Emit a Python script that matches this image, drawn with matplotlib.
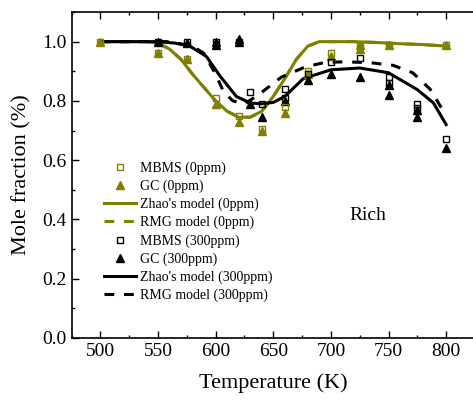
import matplotlib
matplotlib.use("Agg")
import matplotlib.pyplot as plt
from matplotlib.ticker import MultipleLocator

plt.rcParams["font.family"] = ["Liberation Serif", "DejaVu Serif"]

OLIVE = "#808000"

# measured points, 0 ppm
mbms0_T = [500, 550, 575, 600, 620, 640, 660, 680, 700, 725, 750, 800]
mbms0_v = [1.0, 0.96, 0.94, 0.81, 0.75, 0.705, 0.78, 0.90, 0.96, 0.985, 0.99, 0.99]
gc0_T = [500, 550, 575, 600, 620, 640, 660, 680, 700, 725, 725, 750, 800]
gc0_v = [1.0, 0.96, 0.94, 0.79, 0.73, 0.70, 0.76, 0.89, 0.95, 0.975, 0.99, 0.99, 0.99]

# measured points, 300 ppm
mbms300_T = [550, 575, 600, 620, 630, 640, 660, 660, 680, 700, 725, 750, 750, 775, 775, 800]
mbms300_v = [1.0, 1.0, 1.0, 1.0, 0.83, 0.79, 0.84, 0.81, 0.89, 0.93, 0.945, 0.88, 0.86, 0.79, 0.775, 0.67]
gc300_T = [550, 575, 600, 600, 620, 620, 630, 640, 660, 680, 700, 725, 750, 750, 775, 775, 800]
gc300_v = [1.0, 0.995, 0.99, 1.0, 1.0, 1.01, 0.79, 0.745, 0.80, 0.87, 0.89, 0.88, 0.855, 0.82, 0.77, 0.745, 0.64]

# model curves
zhao0_T = [500, 540, 550, 560, 570, 580, 590, 600, 610, 620, 630, 640, 650, 660, 670, 680, 690, 700, 720, 740, 760, 780, 800]
zhao0_v = [1.0, 1.0, 0.995, 0.975, 0.94, 0.89, 0.845, 0.80, 0.765, 0.745, 0.745, 0.765, 0.815, 0.875, 0.94, 0.985, 1.0, 1.0, 1.0, 0.997, 0.993, 0.99, 0.985]
rmg0_T = [500, 540, 550, 560, 570, 580, 590, 600, 610, 620, 630, 640, 650, 660, 670, 680, 690, 700, 720, 740, 760, 780, 800]
rmg0_v = [1.0, 1.0, 0.995, 0.975, 0.94, 0.89, 0.845, 0.80, 0.765, 0.745, 0.745, 0.765, 0.815, 0.875, 0.94, 0.985, 1.0, 1.0, 1.0, 0.997, 0.993, 0.99, 0.985]
zhao300_T = [500, 550, 565, 578, 592, 604, 618, 630, 640, 650, 660, 676, 700, 725, 750, 775, 789, 800]
zhao300_v = [1.0, 1.0, 0.995, 0.984, 0.95, 0.883, 0.815, 0.793, 0.79, 0.795, 0.815, 0.875, 0.905, 0.911, 0.895, 0.838, 0.793, 0.72]
rmg300_T = [500, 560, 580, 590, 600, 607, 615, 625, 637, 647, 657, 678, 695, 712, 734, 754, 771, 786, 800]
rmg300_v = [1.0, 1.0, 0.985, 0.96, 0.89, 0.83, 0.80, 0.79, 0.82, 0.85, 0.88, 0.915, 0.93, 0.932, 0.929, 0.92, 0.895, 0.84, 0.75]

fig = plt.figure(figsize=(4.73, 4.0), dpi=100)
ax = fig.add_axes([0.1512, 0.155, 0.853, 0.815])

ax.plot(mbms0_T, mbms0_v, "s", mec=OLIVE, mfc="none", ms=5, mew=1.0, label="MBMS (0ppm)", zorder=4)
ax.plot(gc0_T, gc0_v, "^", color=OLIVE, ms=5.5, label="GC (0ppm)", zorder=3)
ax.plot(zhao0_T, zhao0_v, "-", color=OLIVE, lw=2.2, label="Zhao's model (0ppm)", zorder=2)
ax.plot(rmg0_T, rmg0_v, "--", color=OLIVE, lw=2.2, dashes=(3.2, 3.2), label="RMG model (0ppm)", zorder=2)
ax.plot(mbms300_T, mbms300_v, "s", mec="black", mfc="none", ms=5, mew=1.0, label="MBMS (300ppm)", zorder=4)
ax.plot(gc300_T, gc300_v, "^", color="black", ms=5.5, label="GC (300ppm)", zorder=3)
ax.plot(zhao300_T, zhao300_v, "-", color="black", lw=2.2, label="Zhao's model (300ppm)", zorder=2)
ax.plot(rmg300_T, rmg300_v, "--", color="black", lw=2.2, dashes=(3.2, 3.2), label="RMG model (300ppm)", zorder=2)

ax.set_xlim(475, 825)
ax.set_ylim(0, 1.1)
ax.set_xticks([500, 550, 600, 650, 700, 750, 800])
ax.xaxis.set_minor_locator(MultipleLocator(25))
ax.set_yticks([0.0, 0.2, 0.4, 0.6, 0.8, 1.0])
ax.set_yticklabels(["0.0", "0.2", "0.4", "0.6", "0.8", "1.0"])
ax.yaxis.set_minor_locator(MultipleLocator(0.1))
ax.tick_params(which="both", direction="in", top=True, right=False, labelsize=14, width=1.0)
ax.tick_params(which="major", length=5)
ax.tick_params(which="minor", length=2.5)
for s in ax.spines.values():
    s.set_linewidth(1.2)

ax.set_xlabel("Temperature (K)", fontsize=16, labelpad=10)
ax.set_ylabel("Mole fraction (%)", fontsize=16, labelpad=8)

ax.text(732, 0.415, "Rich", fontsize=14, ha="center", va="center")

ax.legend(loc="upper left", bbox_to_anchor=(0.08, 0.542), frameon=False, fontsize=10,
          handlelength=2.3, handletextpad=0.3, labelspacing=0.34, borderpad=0, borderaxespad=0)

fig.savefig("out.png", dpi=100)
